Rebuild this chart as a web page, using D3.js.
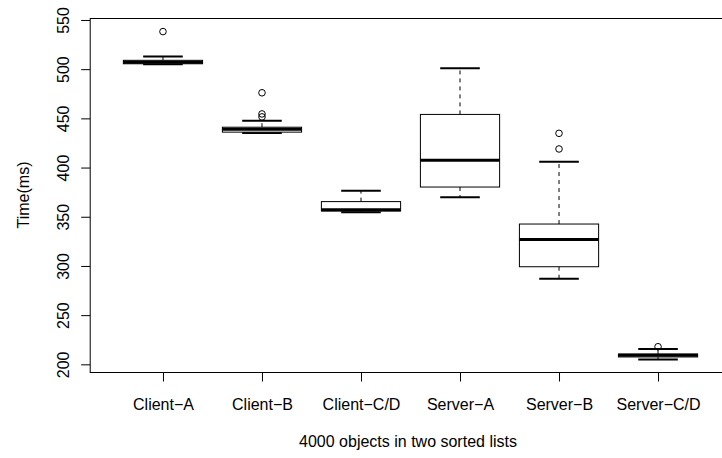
<!DOCTYPE html>
<html>
<head>
<meta charset="utf-8">
<script src="https://cdn.jsdelivr.net/npm/d3@7"></script>
<style>
  html, body { margin: 0; padding: 0; background: #fff; }
  svg { display: block; }
  text { font-family: "Liberation Sans", Arial, Helvetica, sans-serif; fill: #000; }
</style>
</head>
<body>
<svg id="chart" width="722" height="458"></svg>
<script>
// ---- data ----
const categories = ["Client\u2212A", "Client\u2212B", "Client\u2212C/D", "Server\u2212A", "Server\u2212B", "Server\u2212C/D"];
const lowerWhisker = [505, 435, 354.5, 369.8, 287, 205];
const lowerHinge   = [505.5, 436, 355.8, 380.2, 299.2, 207.5];
const medians      = [507, 439, 357, 407.4, 327, 209.3];
const upperHinge   = [509, 441, 365.4, 454, 342.6, 210.5];
const upperWhisker = [513, 447.6, 376.5, 501, 406, 215.6];
const outliers     = [[538.2], [476, 454.5, 451.5], [], [], [434.8, 418.9], [217.9]];
const yTicks = [200, 250, 300, 350, 400, 450, 500, 550];
const xTitle = "4000 objects in two sorted lists";
const yTitle = "Time(ms)";

// ---- layout ----
const FS = 16;
const svg = d3.select("#chart");
const x = d3.scaleLinear().domain([0.26, 6.74]).range([89.7, 731.3]);
const y = d3.scaleLinear().domain([191.7, 551.5]).range([372.5, 18.5]);
const unit = x(2) - x(1);
const boxW = 0.8 * unit;
const capW = 0.4 * unit;

const data = categories.map((c, i) => ({
  i: i + 1, name: c,
  lw: lowerWhisker[i], q1: lowerHinge[i], med: medians[i],
  q3: upperHinge[i], uw: upperWhisker[i], out: outliers[i]
}));

const g = svg.append("g");
const groups = g.selectAll("g.box").data(data).enter().append("g").attr("class", "box");

// whiskers (dashed)
groups.append("line")
  .attr("x1", d => x(d.i)).attr("x2", d => x(d.i))
  .attr("y1", d => y(d.q3)).attr("y2", d => y(d.uw))
  .attr("stroke", "#000").attr("stroke-width", 1).attr("stroke-dasharray", "4,4");
groups.append("line")
  .attr("x1", d => x(d.i)).attr("x2", d => x(d.i))
  .attr("y1", d => y(d.q1)).attr("y2", d => y(d.lw))
  .attr("stroke", "#000").attr("stroke-width", 1).attr("stroke-dasharray", "4,4");
// caps
groups.append("line")
  .attr("x1", d => x(d.i) - capW / 2).attr("x2", d => x(d.i) + capW / 2)
  .attr("y1", d => y(d.uw)).attr("y2", d => y(d.uw))
  .attr("stroke", "#000").attr("stroke-width", 2);
groups.append("line")
  .attr("x1", d => x(d.i) - capW / 2).attr("x2", d => x(d.i) + capW / 2)
  .attr("y1", d => y(d.lw)).attr("y2", d => y(d.lw))
  .attr("stroke", "#000").attr("stroke-width", 2);
// box
groups.append("rect")
  .attr("x", d => x(d.i) - boxW / 2).attr("width", boxW)
  .attr("y", d => y(d.q3)).attr("height", d => y(d.q1) - y(d.q3))
  .attr("fill", "#fff").attr("stroke", "#000").attr("stroke-width", 1);
// median
groups.append("line")
  .attr("x1", d => x(d.i) - boxW / 2).attr("x2", d => x(d.i) + boxW / 2)
  .attr("y1", d => y(d.med)).attr("y2", d => y(d.med))
  .attr("stroke", "#000").attr("stroke-width", 3);
// outliers
groups.selectAll("circle").data(d => d.out.map(v => ({ i: d.i, v })))
  .enter().append("circle")
  .attr("cx", d => x(d.i)).attr("cy", d => y(d.v)).attr("r", 3.3)
  .attr("fill", "none").attr("stroke", "#000").attr("stroke-width", 1);

// plot frame
svg.append("rect")
  .attr("x", x.range()[0] + 0.5).attr("y", y.range()[1])
  .attr("width", x.range()[1] - x.range()[0]).attr("height", y.range()[0] - y.range()[1])
  .attr("fill", "none").attr("stroke", "#000").attr("stroke-width", 1);

// y axis
const yAxis = d3.axisLeft(y).tickValues(yTicks).tickSize(9).tickPadding(0).tickFormat(d3.format("d"));
const ya = svg.append("g").attr("transform", `translate(${x.range()[0] + 0.5},0)`).call(yAxis);
ya.select(".domain").remove();
ya.selectAll("line").attr("stroke", "#000");
ya.selectAll("text").remove();
ya.selectAll(".tick").append("text")
  .attr("transform", "translate(-21.5,0) rotate(-90)")
  .attr("text-anchor", "middle").attr("dy", 0)
  .attr("font-size", FS).text(d => d);

// x axis
const xAxis = d3.axisBottom(x).tickValues(data.map(d => d.i)).tickSize(9).tickFormat((d, k) => categories[k]);
const xa = svg.append("g").attr("transform", `translate(0,${y.range()[0]})`).call(xAxis);
xa.select(".domain").remove();
xa.selectAll("line").attr("stroke", "#000");
xa.selectAll("text").attr("y", 37.5).attr("dy", 0).attr("font-size", FS)
  .attr("font-family", "Liberation Sans, Arial, sans-serif").attr("fill", "#000");

// titles
svg.append("text").attr("x", 408).attr("y", 447).attr("text-anchor", "middle")
  .attr("font-size", FS).text(xTitle);
svg.append("text").attr("transform", "translate(29,195) rotate(-90)")
  .attr("text-anchor", "middle").attr("font-size", FS).text(yTitle);
</script>
</body>
</html>
